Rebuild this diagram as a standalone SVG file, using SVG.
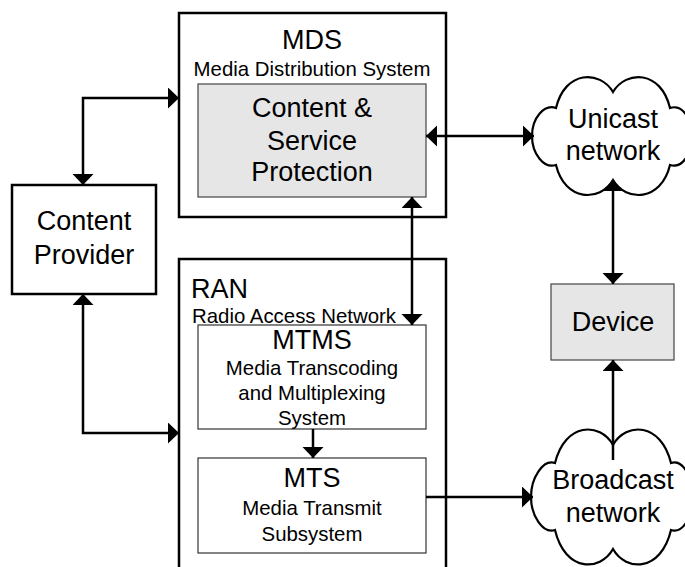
<svg xmlns="http://www.w3.org/2000/svg" width="685" height="567" viewBox="0 0 685 567">
<defs>
<marker id="a" markerUnits="userSpaceOnUse" markerWidth="14" markerHeight="22" refX="11" refY="10.5" orient="auto-start-reverse"><path d="M0 0L11 10.5L0 21Z" fill="#000"/></marker>
</defs>
<style>
text{font-family:"Liberation Sans",Arial,sans-serif;fill:#000;text-anchor:middle}
.b{fill:#fff;stroke:#000;stroke-width:2.5}
.g{fill:#e6e6e6;stroke:#444;stroke-width:1.2}
.w{fill:#fff;stroke:#333;stroke-width:1.2}
.c{fill:#fff;stroke:#000;stroke-width:2.2}
.l{font-size:27px}
.m{font-size:20.4px}
.x{fill:none;stroke:#000;stroke-width:2.5}
</style>
<rect width="685" height="567" fill="#fff"/>
<g id="mds">
<rect class="b" x="179" y="13" width="267" height="204"/>
<text class="l" x="312" y="49">MDS</text>
<text class="m" x="312" y="76">Media Distribution System</text>
</g>
<g id="csp">
<rect class="g" x="198" y="84" width="228" height="113"/>
<text class="l" x="312" y="117">Content &amp;</text>
<text class="l" x="312" y="150">Service</text>
<text class="l" x="312" y="181">Protection</text>
</g>
<g id="provider">
<rect class="b" x="12" y="185" width="144" height="109"/>
<text class="l" x="84" y="230">Content</text>
<text class="l" x="84" y="264">Provider</text>
</g>
<g id="ran">
<path class="b" d="M179 567V259H446V567"/>
<text class="l" x="191" y="298" style="text-anchor:start">RAN</text>
<text class="m" x="192" y="323" style="text-anchor:start">Radio Access Network</text>
</g>
<g id="mtms">
<rect class="w" x="198" y="325" width="228" height="104"/>
<text class="l" x="312" y="349">MTMS</text>
<text class="m" x="312" y="375">Media Transcoding</text>
<text class="m" x="312" y="400">and Multiplexing</text>
<text class="m" x="312" y="425">System</text>
</g>
<g id="mts">
<rect class="w" x="198" y="458" width="228" height="95"/>
<text class="l" x="312" y="487">MTS</text>
<text class="m" x="312" y="515">Media Transmit</text>
<text class="m" x="312" y="541">Subsystem</text>
</g>
<g id="unicast">
<path class="c" d="M613 92C600 70 565 70 556 108C544 104 532 118 532 136C532 154 544 169 556 165C565 202 600 202 613 180C626 202 661 202 670 165C682 169 692 154 692 136C692 118 682 104 670 108C661 70 626 70 613 92Z"/>
<text class="l" x="613" y="128">Unicast</text>
<text class="l" x="613" y="160">network</text>
</g>
<g id="device">
<rect class="g" x="551" y="284" width="123" height="76"/>
<text class="l" x="613" y="331">Device</text>
</g>
<g id="broadcast">
<path class="c" d="M613 445C600 422 565 422 555 463C543 459 531 478 531 497C531 516 543 534 555 530C565 572 600 572 613 549C626 572 661 572 671 530C683 534 693 516 693 497C693 478 683 459 671 463C661 422 626 422 613 445Z"/>
<text class="l" x="613" y="489">Broadcast</text>
<text class="l" x="613" y="522">network</text>
</g>
<g id="connectors">
<path class="x" d="M83 185V98H179" marker-start="url(#a)" marker-end="url(#a)"/>
<path class="x" d="M83 294V433H179" marker-start="url(#a)" marker-end="url(#a)"/>
<path class="x" d="M426 136H534" marker-start="url(#a)" marker-end="url(#a)"/>
<path class="x" d="M412 197V325" marker-start="url(#a)" marker-end="url(#a)"/>
<path class="x" d="M613 180V284" marker-start="url(#a)" marker-end="url(#a)"/>
<path class="x" d="M613 460V360" marker-end="url(#a)"/>
<path class="x" d="M313 429V458" marker-end="url(#a)"/>
<path class="x" d="M426 497H533" marker-end="url(#a)"/>
</g>
</svg>
